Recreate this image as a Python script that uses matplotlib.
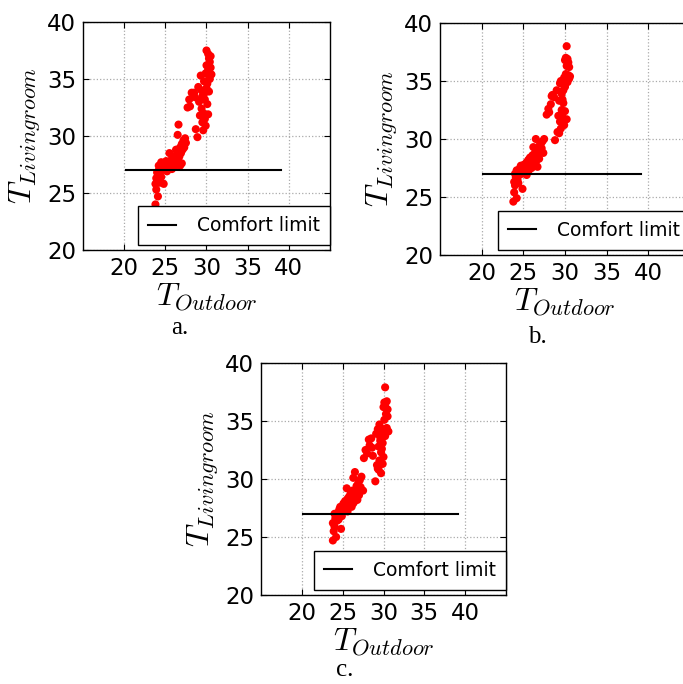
import matplotlib
matplotlib.use('Agg')
from matplotlib import pyplot as plt

plt.rcParams['mathtext.fontset'] = 'cm'
plt.rcParams['font.family'] = 'DejaVu Sans'

# comfort limit line
limit_x = [20.2, 39.1]
limit_y = [27, 27]

xticks = [20, 25, 30, 35, 40]
yticks = [20, 25, 30, 35, 40]

# panel a
a_x = [23.8, 24.1, 23.9, 23.8, 24.0, 23.9, 24.1, 24.0, 24.2, 24.3, 24.4, 24.2, 24.6, 24.5, 24.8,
       24.7, 24.9, 25.0, 25.1, 25.3, 25.4, 25.5, 25.6, 25.7, 25.8, 25.9, 26.0, 26.1, 26.2, 26.3,
       26.4, 26.5, 26.6, 26.7, 26.8, 26.9, 27.0, 27.1, 27.2, 27.3, 27.4, 26.5, 26.6, 27.0, 26.8,
       25.2, 24.5, 25.8, 26.3, 27.5, 24.3,
       27.7, 27.9, 28.0, 28.2, 28.5, 28.6, 28.7, 28.9, 29.0, 29.1, 29.2, 29.3, 29.4, 29.4, 29.5,
       29.5, 29.6, 29.6, 29.7, 29.8, 29.8, 29.9, 30.0, 30.0, 30.1, 30.1, 30.2, 30.2, 30.3, 30.3,
       30.4, 30.4, 30.5, 30.5, 30.6, 30.2, 29.9, 30.0, 30.3, 29.7]
a_y = [24.0, 24.7, 25.3, 25.8, 26.0, 26.3, 26.5, 26.8, 27.0, 26.6, 27.2, 27.4, 27.0, 26.4, 25.8,
       27.5, 27.1, 27.3, 27.8, 27.2, 27.5, 28.5, 27.4, 27.8, 27.1, 27.6, 27.9, 27.3, 28.1, 27.6,
       28.4, 27.9, 28.6, 28.2, 29.0, 28.5, 29.3, 28.8, 29.6, 29.0, 29.8, 30.1, 31.0, 27.6, 27.4,
       26.9, 27.7, 28.0, 28.8, 29.4, 25.9,
       32.5, 33.2, 32.6, 33.8, 33.8, 33.4, 30.6, 29.9, 34.3, 33.0, 31.8, 35.3, 32.4, 34.0, 31.2,
       33.5, 30.5, 32.0, 34.8, 31.5, 33.2, 35.5, 37.5, 36.2, 32.8, 34.6, 37.2, 35.8, 36.8, 33.9,
       36.5, 35.0, 37.0, 36.0, 35.4, 31.9, 30.9, 34.2, 35.3, 33.7]

# panel b
b_x = [23.8, 24.2, 24.9, 23.9, 24.0, 23.9, 24.1, 24.0, 24.2, 24.3, 24.4, 24.6, 24.5, 24.7, 24.9,
       25.0, 25.1, 25.2, 25.3, 25.4, 25.5, 25.6, 25.7, 25.8, 25.9, 26.0, 26.1, 26.2, 26.3, 26.4,
       26.5, 26.6, 26.7, 26.8, 26.9, 27.0, 27.1, 27.2, 27.3, 26.2, 26.5, 27.5, 25.6, 24.8, 26.0,
       26.7, 27.4, 25.4, 24.4, 26.9,
       27.8, 28.0, 28.1, 28.3, 28.5, 28.7, 28.8, 29.0, 29.1, 29.2, 29.3, 29.4, 29.4, 29.5, 29.5,
       29.6, 29.7, 29.8, 29.8, 29.9, 29.9, 30.0, 30.0, 30.1, 30.1, 30.2, 30.2, 30.3, 30.3, 30.4,
       30.4, 30.5, 30.5, 29.6, 29.7, 30.0, 30.2, 28.4, 29.3, 30.6]
b_y = [24.6, 24.9, 25.7, 25.4, 26.0, 26.3, 26.7, 27.0, 27.3, 26.5, 27.1, 27.5, 26.9, 27.7, 27.2,
       27.4, 27.8, 27.3, 27.6, 28.0, 27.5, 28.2, 27.7, 28.4, 27.9, 28.1, 28.6, 29.3, 28.2, 28.8,
       30.0, 28.5, 29.1, 28.7, 29.4, 28.9, 29.6, 29.2, 29.8, 27.8, 28.0, 30.0, 27.2, 27.0, 27.5,
       27.6, 28.8, 26.9, 26.2, 28.3,
       32.1, 32.6, 32.3, 33.0, 33.8, 33.6, 29.9, 34.2, 30.6, 32.0, 33.3, 31.5, 34.8, 30.9, 35.0,
       32.5, 31.9, 34.2, 33.1, 35.3, 31.2, 36.8, 34.5, 37.0, 35.6, 38.0, 36.3, 36.9, 34.9, 35.5,
       36.6, 35.2, 36.2, 33.9, 33.4, 32.4, 31.7, 33.7, 30.5, 35.4]

# panel c
c_x = [23.8, 24.2, 24.8, 23.9, 24.0, 23.8, 24.1, 24.0, 24.2, 24.3, 24.4, 24.6, 24.5, 24.7, 24.9,
       25.0, 25.1, 25.2, 25.3, 25.4, 25.5, 25.6, 25.7, 25.8, 25.9, 26.0, 26.1, 26.2, 26.3, 26.4,
       26.5, 26.6, 26.7, 26.8, 26.9, 27.0, 27.1, 27.2, 27.3, 26.3, 26.5, 25.5, 24.9, 25.6, 26.1,
       26.8, 27.5, 24.5, 26.4, 27.0,
       27.6, 27.8, 28.0, 28.2, 28.3, 28.5, 28.7, 29.0, 29.1, 29.2, 29.3, 29.4, 29.4, 29.5, 29.5,
       29.6, 29.7, 29.8, 29.8, 29.9, 29.9, 30.0, 30.0, 30.1, 30.1, 30.2, 30.2, 30.3, 30.3, 30.4,
       30.4, 30.5, 30.5, 29.6, 29.7, 30.0, 30.2, 28.6, 29.3, 30.6]
c_y = [24.7, 25.0, 25.7, 25.5, 25.9, 26.2, 26.6, 27.0, 26.8, 26.4, 27.1, 27.4, 26.9, 27.6, 27.2,
       27.6, 27.9, 27.4, 28.1, 27.8, 29.2, 28.3, 27.7, 28.5, 28.0, 28.8, 28.3, 29.0, 30.1, 28.6,
       30.6, 28.9, 29.4, 28.7, 29.6, 29.1, 29.9, 29.3, 30.2, 27.9, 28.1, 27.3, 26.8, 27.2, 27.6,
       28.2, 29.0, 26.5, 28.4, 28.6,
       31.8, 32.5, 32.2, 33.4, 32.9, 33.5, 32.0, 29.8, 33.9, 31.2, 34.3, 30.8, 32.8, 34.7, 31.6,
       33.3, 30.5, 32.6, 34.0, 31.3, 33.1, 36.2, 34.3, 36.6, 35.1, 37.9, 36.4, 34.2, 35.6, 36.7,
       34.4, 35.4, 36.0, 33.6, 32.3, 31.9, 33.7, 32.7, 30.9, 34.1]

fig = plt.figure(figsize=(6.83, 6.84), dpi=100)
W, H = 683.0, 684.0


def make_axes(left, top, width, height):
    return fig.add_axes([left / W, (H - top - height) / H, width / W, height / H])


def draw_panel(ax, xs, ys):
    ax.scatter(xs, ys, s=34, color='#ff0000', edgecolors='none', zorder=3)
    ax.plot(limit_x, limit_y, color='black', lw=1.5, label='Comfort limit', zorder=4)
    ax.set_xlim(15, 45)
    ax.set_ylim(20, 40)
    ax.set_xticks(xticks)
    ax.set_yticks(yticks)
    ax.grid(True, color='#aaaaaa', linestyle=':', linewidth=0.9)
    ax.set_axisbelow(True)
    ax.tick_params(direction='in', length=4, labelsize=16.5, pad=5, top=True, right=True)
    for sp in ax.spines.values():
        sp.set_linewidth(1.0)
    ax.set_xlabel('$T_{Outdoor}$', fontsize=23, labelpad=1)
    ax.set_ylabel('$T_{Livingroom}$', fontsize=23, labelpad=3)
    leg = ax.legend(loc='lower right', bbox_to_anchor=(1.0, 0.02), borderaxespad=0,
                    fontsize=13.5, fancybox=False, framealpha=1, edgecolor='black',
                    handlelength=1.5, handletextpad=1.1, borderpad=0.55)
    leg.get_frame().set_linewidth(1.0)


ax_a = make_axes(83, 22, 247, 228)
draw_panel(ax_a, a_x, a_y)
ax_b = make_axes(440, 23, 250, 232)
draw_panel(ax_b, b_x, b_y)
ax_c = make_axes(261, 363, 245, 232)
draw_panel(ax_c, c_x, c_y)

fig.text(180 / W, 1 - 328 / H, 'a.', family='Liberation Serif', fontsize=18, ha='center', va='center')
fig.text(537 / W, 1 - 337 / H, 'b.', family='Liberation Serif', fontsize=18, ha='center', va='center')
fig.text(345 / W, 1 - 670 / H, 'c.', family='Liberation Serif', fontsize=18, ha='center', va='center')

fig.savefig('out.png', dpi=100)
